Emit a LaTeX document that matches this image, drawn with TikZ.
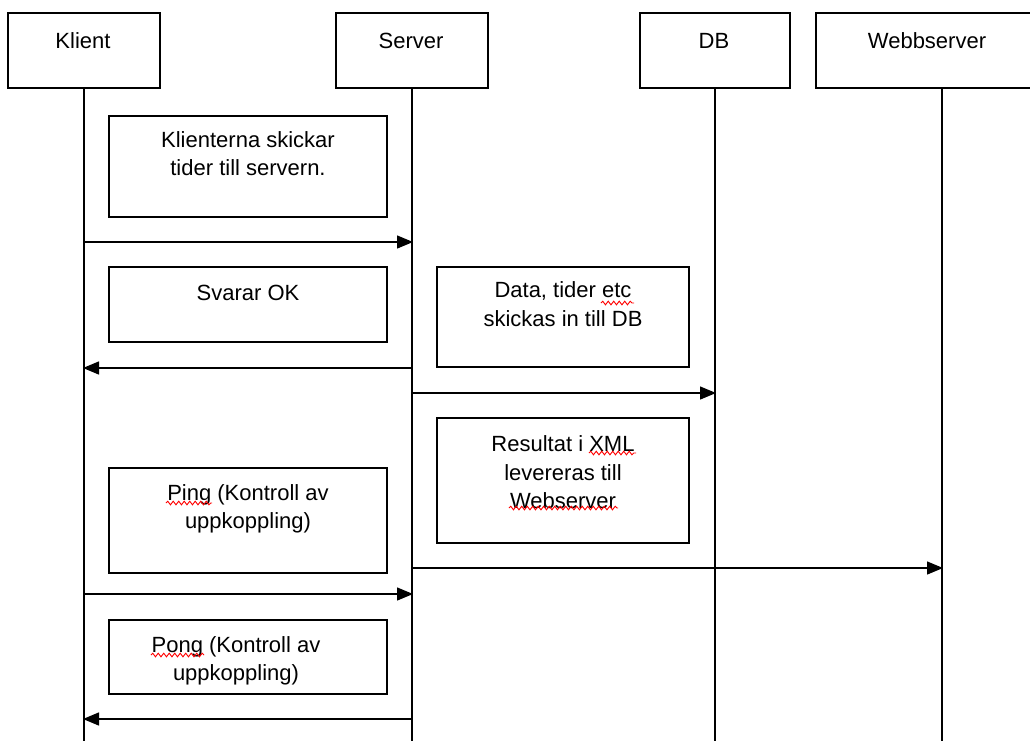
\documentclass[tikz,border=0pt]{standalone}
\usepackage{fontspec}
\setmainfont{Liberation Sans}
\usetikzlibrary{arrows.meta,decorations.pathmorphing}
\tikzset{
  box/.style={draw=black, line width=1.4pt, inner sep=0pt, fill=white},
  txt/.style={font=\fontsize{22}{28.5}\selectfont, align=center, inner sep=0pt, anchor=base},
  life/.style={draw=black, line width=1.4pt},
  msg/.style={draw=black, line width=1.4pt, -{Triangle[length=16pt,width=13pt]}, shorten >=-1pt},
  wave/.style={draw=red, line width=0.9pt, decorate, decoration={snake, segment length=5.5pt, amplitude=1.8pt}}
}
\begin{document}
\begin{tikzpicture}[x=1pt,y=-1pt]
\useasboundingbox (0,0) rectangle (1030,740);
\clip (0,0) rectangle (1030,740);
\fill[white] (0,0) rectangle (1030,740);
% header boxes
\node[box, minimum width=152pt, minimum height=75pt] (klient) at (84,50.5) {};
\node[box, minimum width=152pt, minimum height=75pt] (server) at (412,50.5) {};
\node[box, minimum width=150pt, minimum height=75pt] (db) at (715,50.5) {};
\node[box, minimum width=229pt, minimum height=75pt] (web) at (930.5,50.5) {};
\node[txt] (tklient) at (83,48) {Klient};
\node[txt] (tserver) at (411,48) {Server};
\node[txt] (tdb) at (714,48) {DB};
\node[txt] (tweb) at (927,48) {Webbserver};
% lifeline ends
\coordinate (kend) at (84,742);
\coordinate (send) at (412,742);
\coordinate (dend) at (715,742);
\coordinate (wend) at (942,742);
\draw[life] (klient.south) -- (kend);
\draw[life] (server.south) -- (send);
\draw[life] (db.south) -- (dend);
\draw[life] (web.south -| wend) -- (wend);
% note boxes
\node[box, minimum width=278pt, minimum height=101pt] (b1) at (248,166.5) {};
\node[box, minimum width=278pt, minimum height=75pt] (b2) at (248,304.5) {};
\node[box, minimum width=252pt, minimum height=100pt] (b3) at (563,317) {};
\node[box, minimum width=252pt, minimum height=125pt] (b4) at (563,480.5) {};
\node[box, minimum width=278pt, minimum height=105pt] (b5) at (248,520.5) {};
\node[box, minimum width=278pt, minimum height=74pt] (b6) at (248,657) {};
% base anchor of a multi-line node is the baseline of its last line
\node[txt] (t1) at ([yshift=-60.5pt]b1.north) {Klienterna skickar\\tider till servern.};
\node[txt] (t2) at ([yshift=-34pt]b2.north) {Svarar OK};
\node[txt] (t3) at ([yshift=-60pt]b3.north) {Data, tider etc\\skickas in till DB};
\node[txt] (t4) at ([yshift=-91.5pt]b4.north) {Resultat i XML\\levereras till\\Webserver};
\node[txt] (t5) at ([yshift=-61.5pt]b5.north) {Ping (Kontroll av\\uppkoppling)};
\node[txt] (t6) at ([xshift=-12pt,yshift=-61.5pt]b6.north) {Pong (Kontroll av\\uppkoppling)};
% spell-check squiggles
\draw[wave] (601,303) -- (634,303);
\draw[wave] (589,453) -- (636,453);
\draw[wave] (509,508) -- (618,508);
\draw[wave] (166,503) -- (212,503);
\draw[wave] (151,655) -- (204,655);
% messages
\draw[msg] (klient.south |- 0,242) -- (server.south |- 0,242);
\draw[msg] (server.south |- 0,368) -- (klient.south |- 0,368);
\draw[msg] (server.south |- 0,393) -- (db.south |- 0,393);
\draw[msg] (server.south |- 0,568) -- (wend |- 0,568);
\draw[msg] (klient.south |- 0,594) -- (server.south |- 0,594);
\draw[msg] (server.south |- 0,719) -- (klient.south |- 0,719);
\end{tikzpicture}
\end{document}
